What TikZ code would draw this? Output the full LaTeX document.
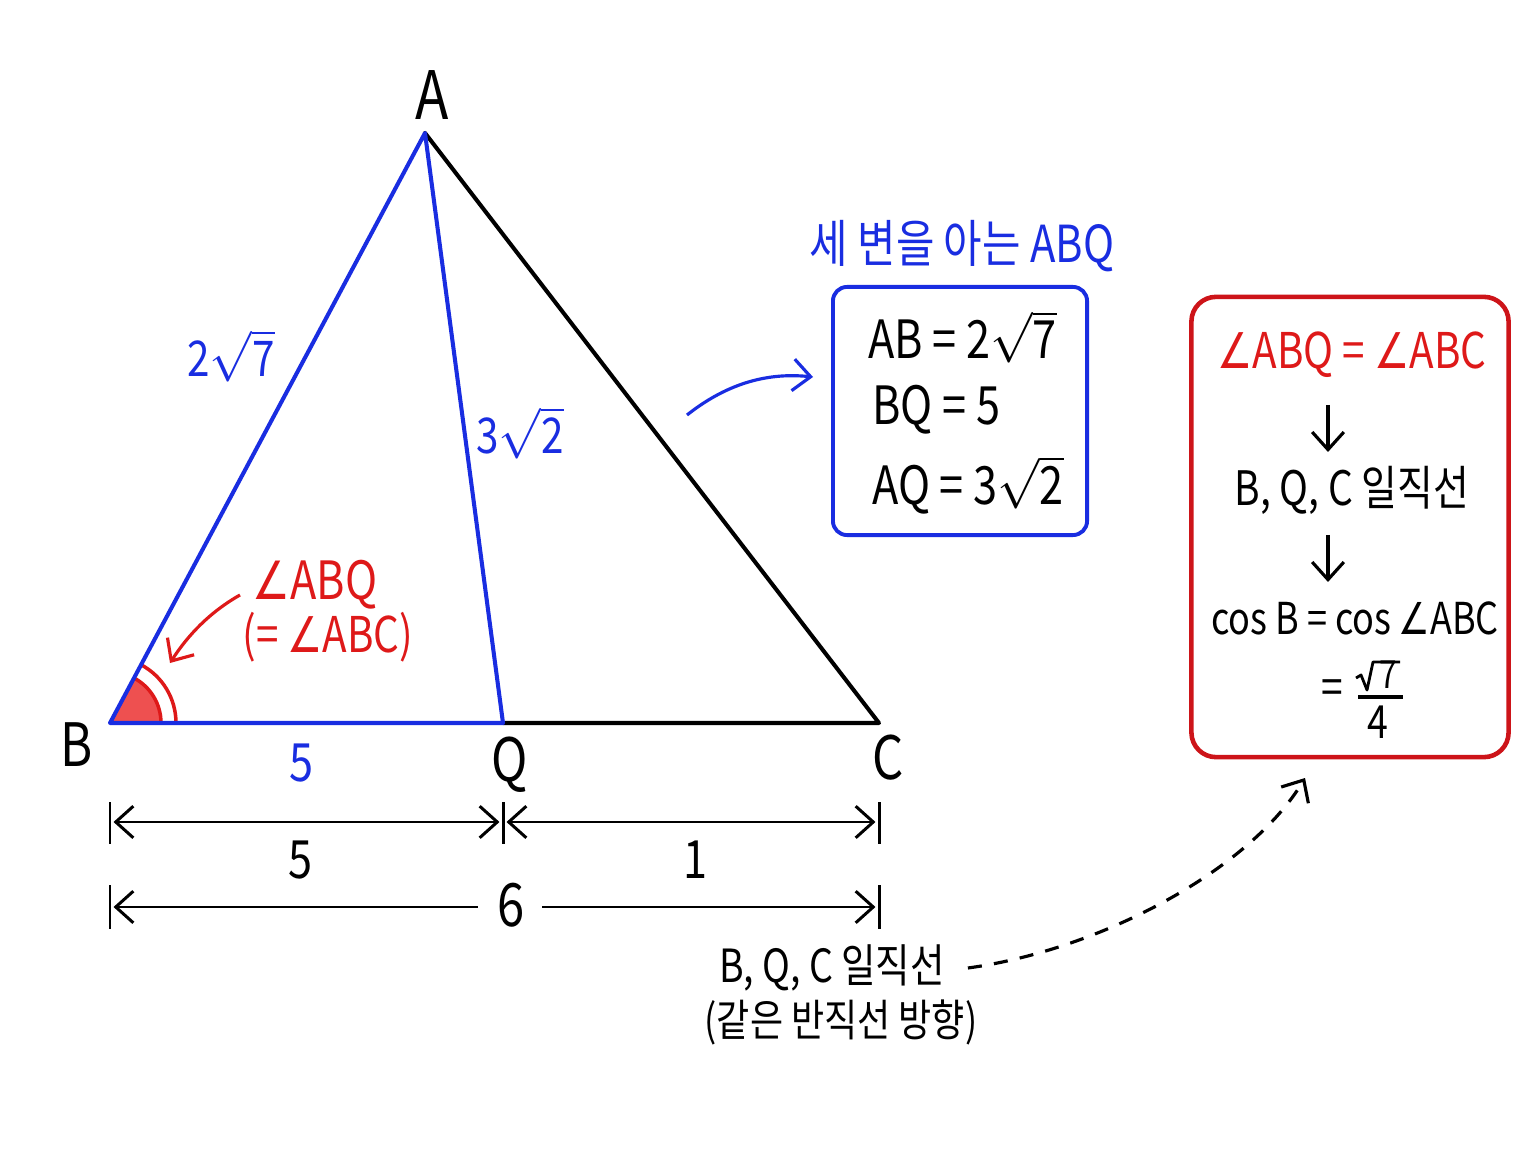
\documentclass[tikz,border=0pt]{standalone}
\usepackage{fontspec}
\setmainfont[FakeStretch=0.82]{Noto Sans CJK KR}
\newfontfamily\dvfont[FakeStretch=0.8]{DejaVu Sans}
\usetikzlibrary{arrows.meta}
\definecolor{myblue}{RGB}{25,45,225}
\definecolor{myred}{RGB}{222,25,25}
\definecolor{boxred}{RGB}{205,20,25}
\definecolor{fillred}{RGB}{238,80,80}
\newcommand{\rt}[1]{\ensuremath{\sqrt{\mbox{#1}}}}
\newcommand{\ang}{{\dvfont ∠}}
\newcommand{\fs}[1]{\fontsize{#1}{#1}\selectfont}
\tikzset{
  tri/.style={line width=1.15pt, line join=round, line cap=round},
  dimline/.style={line width=0.85pt, {Straight Barb[length=5pt,width=9pt]}-{Straight Barb[length=5pt,width=9pt]}},
  dimbar/.style={line width=0.85pt},
  vlabel/.style={font=\fs{17}},
  lbl/.style={font=\fs{15}},
  boxtxt/.style={font=\fs{15}, anchor=west, inner sep=1pt},
  redtxt/.style={font=\fs{13.5}},
  flow/.style={line width=0.9pt, -{Straight Barb[length=5pt,width=9pt]}},
}
\begin{document}
\begin{tikzpicture}[x=0.01cm,y=-0.01cm]
\useasboundingbox[fill=white] (0,0) rectangle (1536,1152);
% vertices
\coordinate (A) at (425,133);
\coordinate (B) at (110,723);
\coordinate (Q) at (503,723);
\coordinate (C) at (879,723);
% angle mark
\fill[fillred] (B) -- ++(51,0) arc[start angle=0,end angle=-61.9,radius=51] -- cycle;
\draw[myred, line width=1pt] (B) ++(51,0) arc[start angle=0,end angle=-61.9,radius=51];
\draw[myred, line width=1pt] (B) ++(66,0) arc[start angle=0,end angle=-61.9,radius=66];
% triangle
\draw[tri] (A) -- (C) -- (Q);
\draw[tri, myblue] (Q) -- (B) -- (A) -- (Q);
% vertex labels
\node[vlabel, font=\fs{19}] (lA) at (432,95) {A};
\node[vlabel] (lB) at (77,745) {B};
\node[vlabel] (lQ) at (510,765) {Q};
\node[vlabel] (lC) at (888,758) {C};
% side labels
\node[lbl, myblue, font=\fs{14}] (sAB) at (231,356) {2\rt{7}};
\node[lbl, myblue, font=\fs{14}] (sAQ) at (520,433) {3\rt{2}};
\node[lbl, myblue] (sBQ) at (302,763) {5};
% angle label
\node[lbl, myred] (ang1) at (315,585) {\ang ABQ};
\node[lbl, myred, font=\fs{14}] (ang2) at (328,637) {(=\,\ang ABC)};
\coordinate (ra1) at (240,595);
\coordinate (ra2) at (170,663);
\draw[flow, myred] (ra1) .. controls (210,612) and (188,635) .. (ra2);
% dimension lines
\coordinate (d1a) at (110,822);
\coordinate (d1b) at (503,822);
\coordinate (d1c) at (879,822);
\coordinate (d2a) at (110,907);
\coordinate (d2c) at (879,907);
\foreach \p in {d1a,d1b,d1c} \draw[dimbar] (\p) ++(0,-20) -- ++(0,42);
\foreach \p in {d2a,d2c} \draw[dimbar] (\p) ++(0,-22) -- ++(0,44);
\draw[dimline] ([xshift=1pt]d1a) -- ([xshift=-1pt]d1b);
\draw[dimline] ([xshift=1pt]d1b) -- ([xshift=-1pt]d1c);
\node[lbl] (n5) at (300,860) {5};
\node[lbl] (n1) at (695,860) {1};
\node[vlabel] (n6) at (511,905) {6};
\draw[line width=0.85pt, {Straight Barb[length=5pt,width=9pt]}-] ([xshift=1pt]d2a) -- (478,907);
\draw[line width=0.85pt, -{Straight Barb[length=5pt,width=9pt]}] (542,907) -- ([xshift=-1pt]d2c);
% blue box
\node[myblue, font=\fs{14.5}, inner sep=1pt] (btitle) at (962,246) {세 변을 아는 ABQ};
\node[draw=myblue, line width=1.1pt, rounded corners=4pt, minimum width=2.54cm, minimum height=2.48cm, inner sep=0pt] (bbox) at (960,411) {};
\node[boxtxt] (b1) at (864,337) {AB = 2\rt{7}};
\node[boxtxt] (b2) at (868,410) {BQ = 5};
\node[boxtxt] (b3) at (868,485) {AQ = 3\rt{2}};
\coordinate (ba1) at (687,415);
\coordinate (ba2) at (813,377);
\draw[flow, myblue] (ba1) .. controls (725,385) and (765,372) .. (ba2);
% red box
\node[draw=boxred, line width=1.3pt, rounded corners=7pt, minimum width=3.17cm, minimum height=4.6cm, inner sep=0pt] (rbox) at (1350,527) {};
\node[redtxt, myred, font=\fs{14}] (r1) at (1352,355) {\ang ABQ = \ang ABC};
\node[redtxt] (r2) at (1352,490) {B, Q, C 일직선};
\node[redtxt, font=\fs{12.5}, inner sep=0pt, text depth=0pt, anchor=base] (r3) at (1355,634) {cos B = cos\,\ang ABC};
\node[redtxt] (r4eq) at (1332,692) {=};
\node[font=\fs{11}, inner sep=0pt, anchor=base] (r4n) at (1388,689) {7};
\draw[line width=0.8pt, line join=round] (1356,678) -- (1361,675) -- (1367,690) -- (1373,662) -- (1400,662);
\node[redtxt, font=\fs{13}, inner sep=1pt] (r4d) at (1378,722) {4};
\draw[line width=0.9pt] (1358,697) -- (1403,697);
\coordinate (ar1) at (1328,405);
\coordinate (ar2) at (1328,452);
\coordinate (ar3) at (1328,535);
\coordinate (ar4) at (1328,582);
\draw[flow] (ar1) -- (ar2);
\draw[flow] (ar3) -- (ar4);
% bottom note
\node[font=\fs{13}] (note1) at (832,968) {B, Q, C 일직선};
\node[font=\fs{12.5}] (note2) at (841,1022) {(같은 반직선 방향)};
\coordinate (da2) at (1305,778);
\draw[line width=0.9pt, dash pattern=on 4pt off 3.5pt, -{Straight Barb[length=5pt,width=9pt]}] ([xshift=3pt]note1.east) .. controls (1100,950) and (1250,870) .. (da2);
\end{tikzpicture}
\end{document}
